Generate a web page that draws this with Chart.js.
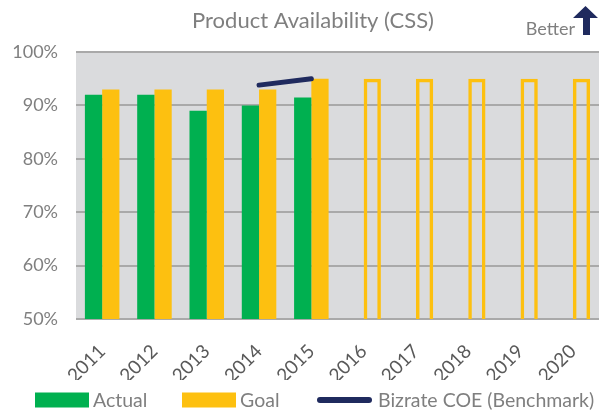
<!DOCTYPE html>
<html>
<head>
<meta charset="utf-8">
<script src="https://cdn.jsdelivr.net/npm/chart.js@4/dist/chart.umd.min.js"></script>
<style>
  html, body { margin: 0; padding: 0; background: #fff; }
  #wrap { width: 605px; height: 414px; }
</style>
</head>
<body>
<div id="wrap"><canvas id="chart" width="605" height="414"></canvas></div>
<script>
// chart data
const years = ["2011", "2012", "2013", "2014", "2015", "2016", "2017", "2018", "2019", "2020"];
const actual = [92, 92, 89, 90, 91.5, null, null, null, null, null];
const goal = [93, 93, 93, 93, 95, 95, 95, 95, 95, 95];
const benchmark = [null, null, null, 93.8, 95, null, null, null, null, null];
const yTicks = [50, 60, 70, 80, 90, 100];

const GREEN = "#00b050";
const GOLD = "#fdc010";
const NAVY = "#1f2a5e";
const GREY = "#7f7f7f";
const FONT = "Lato, 'Open Sans', sans-serif";

// legend item left edges (layout, not data)
const LEGEND_X = [35, 182, 317];
const LEGEND_Y = 400;

// years without actuals get an outlined goal bar
const isFuture = i => actual[i] === null;

// grey plot background
const plotBg = {
  id: "plotBg",
  beforeDraw(chart) {
    const { ctx, chartArea: a } = chart;
    ctx.save();
    ctx.fillStyle = "#dadbdd";
    ctx.fillRect(a.left, a.top, a.right - a.left, a.bottom - a.top);
    ctx.restore();
  }
};

// title, "Better" arrow and the legend row
const decorations = {
  id: "decorations",
  afterDraw(chart) {
    const ctx = chart.ctx;
    ctx.save();

    ctx.fillStyle = GREY;
    ctx.font = "22px " + FONT;
    ctx.textAlign = "center";
    ctx.textBaseline = "middle";
    ctx.fillText("Product Availability (CSS)", 313, 21);

    ctx.font = "18px " + FONT;
    ctx.textAlign = "right";
    ctx.textBaseline = "alphabetic";
    ctx.fillText("Better", 575, 35);
    ctx.fillStyle = NAVY;
    ctx.beginPath();
    ctx.moveTo(583, 35);
    ctx.lineTo(583, 18);
    ctx.lineTo(573, 18);
    ctx.lineTo(585.5, 6);
    ctx.lineTo(598, 18);
    ctx.lineTo(590, 18);
    ctx.lineTo(590, 35);
    ctx.closePath();
    ctx.fill();

    // legend, in dataset order
    ctx.font = "19.5px " + FONT;
    ctx.textAlign = "left";
    ctx.textBaseline = "middle";
    chart.data.datasets.forEach((ds, i) => {
      const x = LEGEND_X[i];
      let textX = x + 58;
      if (ds.type === "line") {
        ctx.strokeStyle = ds.borderColor;
        ctx.lineWidth = 6;
        ctx.lineCap = "round";
        ctx.beginPath();
        ctx.moveTo(x + 3, LEGEND_Y);
        ctx.lineTo(x + 52, LEGEND_Y);
        ctx.stroke();
        textX = x + 61;
      } else {
        ctx.fillStyle = ds.legendColor;
        ctx.fillRect(x, LEGEND_Y - 7.5, 54, 15);
      }
      ctx.fillStyle = GREY;
      ctx.fillText(ds.label, textX, LEGEND_Y + 1);
    });
    ctx.restore();
  }
};

new Chart(document.getElementById("chart"), {
  type: "bar",
  data: {
    labels: years,
    datasets: [
      {
        label: "Actual",
        data: actual,
        backgroundColor: GREEN,
        legendColor: GREEN,
        borderWidth: 0,
        order: 1
      },
      {
        label: "Goal",
        data: goal,
        backgroundColor: goal.map((v, i) => isFuture(i) ? "rgba(0,0,0,0)" : GOLD),
        legendColor: GOLD,
        borderColor: GOLD,
        borderWidth: goal.map((v, i) => isFuture(i) ? 3.5 : 0),
        borderSkipped: ctx => isFuture(ctx.dataIndex) ? false : "start",
        order: 2
      },
      {
        type: "line",
        label: "Bizrate COE (Benchmark)",
        data: benchmark,
        borderColor: NAVY,
        backgroundColor: NAVY,
        borderWidth: 5,
        borderCapStyle: "round",
        pointRadius: 0,
        order: 0
      }
    ]
  },
  options: {
    responsive: false,
    animation: false,
    layout: { padding: { top: 52, left: 0, right: 6, bottom: 34 } },
    datasets: {
      bar: { categoryPercentage: 0.66, barPercentage: 1 }
    },
    plugins: {
      legend: { display: false },
      tooltip: { enabled: false }
    },
    scales: {
      x: {
        grid: { display: false },
        border: { display: false },
        ticks: {
          color: "#595959",
          font: { family: FONT, size: 19 },
          minRotation: 45,
          maxRotation: 45,
          padding: 13
        },
        afterFit: s => { s.height = 61; }
      },
      y: {
        min: 50,
        max: 100,
        afterBuildTicks: s => { s.ticks = yTicks.map(v => ({ value: v })); },
        grid: { color: "#a9a9a9", lineWidth: 2, drawTicks: false },
        border: { display: false },
        ticks: {
          color: GREY,
          font: { family: FONT, size: 18 },
          padding: 18,
          callback: v => v + "%"
        },
        afterFit: s => { s.width = 76; }
      }
    }
  },
  plugins: [plotBg, decorations]
});
</script>
</body>
</html>
